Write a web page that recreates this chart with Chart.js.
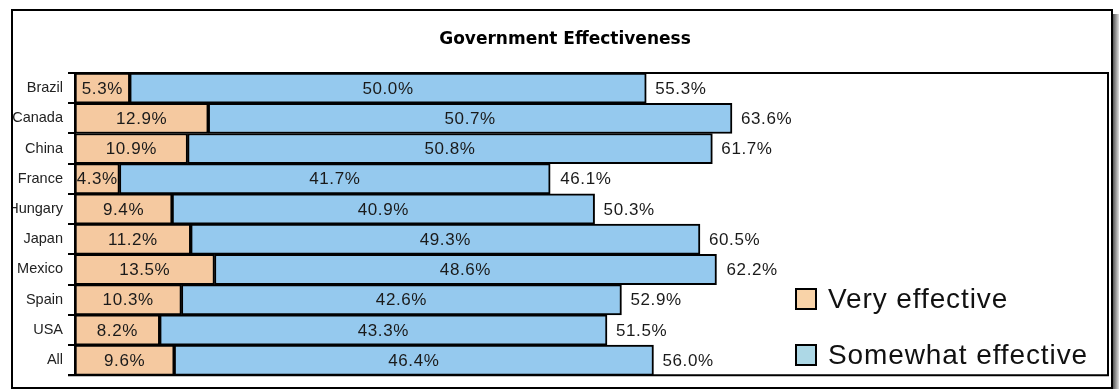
<!DOCTYPE html>
<html>
<head>
<meta charset="utf-8">
<script src="https://cdn.jsdelivr.net/npm/chart.js@4/dist/chart.umd.min.js"></script>
<style>
  html, body { margin: 0; padding: 0; background: #fff; }
  #wrap { position: absolute; left: 0; top: 0; width: 1119px; height: 389px; }
</style>
</head>
<body>
<div id="wrap"><canvas id="c"></canvas></div>
<script>
const countries = ["Brazil", "Canada", "China", "France", "Hungary", "Japan", "Mexico", "Spain", "USA", "All"];
const veryEffective = [5.3, 12.9, 10.9, 4.3, 9.4, 11.2, 13.5, 10.3, 8.2, 9.6];
const somewhatEffective = [50.0, 50.7, 50.8, 41.7, 40.9, 49.3, 48.6, 42.6, 43.3, 46.4];
const totalEffective = [55.3, 63.6, 61.7, 46.1, 50.3, 60.5, 62.2, 52.9, 51.5, 56.0];
const seriesNames = ["Very effective", "Somewhat effective"];
const chartTitle = "Government Effectiveness";

const barColors = ["#F5C9A0", "#95C9EE"];
const legendColors = ["#F9D3A8", "#ADD8E6"];
const FONT = "'Liberation Sans', Arial, sans-serif";

const decor = {
  id: 'decor',
  afterDraw(chart) {
    const ctx = chart.ctx;
    const ca = chart.chartArea;
    ctx.save();
    ctx.strokeStyle = '#000';
    ctx.lineWidth = 2;
    ctx.beginPath();
    ctx.moveTo(68, ca.top);
    ctx.lineTo(ca.right, ca.top);
    ctx.lineTo(ca.right, ca.bottom);
    ctx.lineTo(68, ca.bottom);
    ctx.stroke();

    // value labels
    ctx.fillStyle = '#1a1a1a';
    ctx.font = "17px " + FONT;
    ctx.letterSpacing = '0.6px';
    ctx.textBaseline = 'middle';
    chart.data.datasets.forEach((ds, di) => {
      const meta = chart.getDatasetMeta(di);
      meta.data.forEach((bar, i) => {
        const v = ds.data[i];
        const cx = (bar.x + bar.base) / 2;
        ctx.textAlign = 'center';
        ctx.fillText(v.toFixed(1) + '%', cx, bar.y + 1);
      });
    });
    const last = chart.getDatasetMeta(chart.data.datasets.length - 1);
    const xs = chart.scales.x;
    last.data.forEach((bar, i) => {
      ctx.textAlign = 'left';
      ctx.fillText(totalEffective[i].toFixed(1) + '%', xs.getPixelForValue(totalEffective[i]) + 9, bar.y + 1);
    });

    // legend
    const ly = [299, 355];
    ctx.letterSpacing = '0.9px';
    seriesNames.forEach((name, i) => {
      ctx.fillStyle = legendColors[i];
      ctx.fillRect(796, ly[i] - 10, 20, 20);
      ctx.strokeStyle = '#000';
      ctx.lineWidth = 2;
      ctx.strokeRect(796, ly[i] - 10, 20, 20);
      ctx.fillStyle = '#111';
      ctx.font = "28px " + FONT;
      ctx.textAlign = 'left';
      ctx.textBaseline = 'middle';
      ctx.fillText(name, 828, ly[i] + 1);
    });

    // title
    ctx.letterSpacing = '0px';
    ctx.fillStyle = '#000';
    ctx.font = "bold 17px 'DejaVu Sans', sans-serif";
    ctx.textAlign = 'center';
    ctx.fillText(chartTitle, 565, 40);

    // clip outside outer box
    ctx.fillStyle = '#fff';
    ctx.fillRect(0, 0, 12, 389);
    ctx.fillRect(0, 0, 1119, 10);
    ctx.fillRect(1112, 0, 7, 389);
    const g = ctx.createLinearGradient(1113, 0, 1119, 0);
    g.addColorStop(0, '#555');
    g.addColorStop(1, '#ddd');
    ctx.fillStyle = g;
    ctx.fillRect(1113, 14, 6, 375);
    ctx.strokeStyle = '#000';
    ctx.lineWidth = 2;
    ctx.strokeRect(12, 10, 1100, 378);
    ctx.restore();
  }
};

new Chart(document.getElementById('c'), {
  type: 'bar',
  data: {
    labels: countries,
    datasets: [
      { label: seriesNames[0], data: veryEffective, backgroundColor: barColors[0], borderColor: '#000', borderWidth: 2, borderSkipped: false },
      { label: seriesNames[1], data: somewhatEffective, backgroundColor: barColors[1], borderColor: '#000', borderWidth: 2, borderSkipped: false }
    ]
  },
  options: {
    indexAxis: 'y',
    responsive: true,
    maintainAspectRatio: false,
    animation: false,
    barPercentage: 1,
    categoryPercentage: 1,
    layout: { padding: { top: 73, right: 11, bottom: 4, left: 0 } },
    plugins: { legend: { display: false }, title: { display: false }, tooltip: { enabled: false } },
    scales: {
      x: { stacked: true, min: 0, max: 100, display: false },
      y: {
        stacked: true,
        afterFit(axis) { axis.width = 75; },
        grid: { offset: true, drawOnChartArea: false, tickLength: 7, color: '#000', lineWidth: 2 },
        border: { color: '#000', width: 2 },
        ticks: { color: '#222', font: { size: 14.5, family: FONT }, padding: 5 }
      }
    }
  },
  plugins: [decor]
});
</script>
</body>
</html>
